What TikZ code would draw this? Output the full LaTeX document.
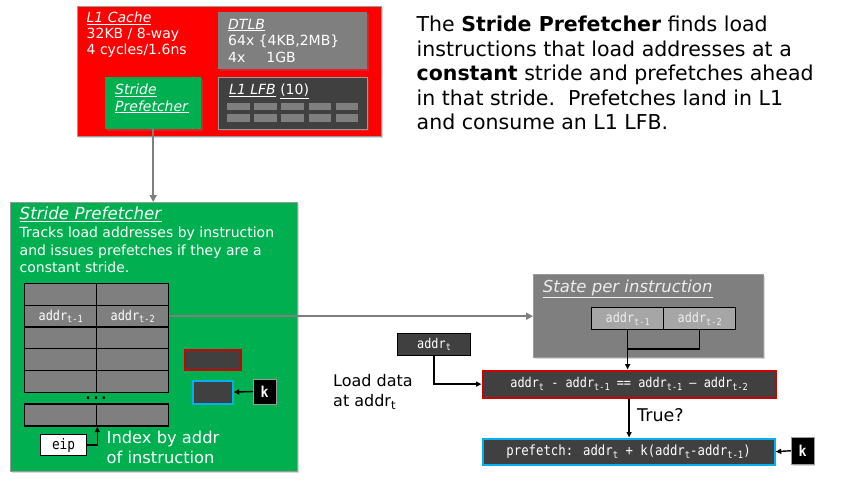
\documentclass[tikz,border=0pt]{standalone}
\usepackage{fontspec}
\setmainfont{DejaVu Sans}
\newfontfamily\monof[FakeStretch=0.88]{DejaVu Sans Mono}
\usetikzlibrary{arrows.meta,shadows}
\definecolor{l1red}{HTML}{FF0000}
\definecolor{spgreen}{HTML}{00B050}
\definecolor{dgray}{HTML}{404040}
\definecolor{mgray}{HTML}{7F7F7F}
\definecolor{lgray}{HTML}{A6A6A6}
\definecolor{cmpred}{HTML}{CC0000}
\definecolor{pfblue}{HTML}{00B0F0}
\definecolor{bord}{HTML}{9A9A9A}
\definecolor{paletxt}{HTML}{EDEDED}
\newcommand\lsub[1]{\raisebox{-0.35ex}{\scalebox{0.72}{#1}}}
\newcommand\fsz[1]{\fontsize{#1}{#1}\selectfont}
\begin{document}
\begin{tikzpicture}[x=1pt,y=-1pt,
  box/.style={rectangle,inner sep=0pt,anchor=north west},
  shad/.style={drop shadow={opacity=0.3,shadow xshift=1.5pt,shadow yshift=-1.5pt}},
  txt/.style={inner sep=0pt,anchor=base west,text=white},
  cell/.style={box,fill=mgray,draw=black,line width=1.3pt,minimum width=72pt,minimum height=21.7pt,text=white},
  lfbcell/.style={box,fill=mgray,minimum width=22.7pt,minimum height=7.7pt},
  blk/.style={-{Triangle[length=5.5pt,width=5pt]},line width=1.4pt,black},
  gry/.style={-{Triangle[length=7pt,width=7pt]},line width=2.4pt,mgray}]
\useasboundingbox[fill=white] (0,0) rectangle (842,485);

% ---------- L1 cache block ----------
\node[box,shad,fill=l1red,draw=bord,line width=0.8pt,minimum width=304pt,minimum height=130pt] (l1) at (77,6) {};
\node[txt] (l1t) at (86.5,22.5) {\fsz{14}\underline{\textit{L1 Cache}}};
\node[txt] (l1a) at (86.5,38) {\fsz{14}32KB / 8-way};
\node[txt] (l1b) at (86.5,54.5) {\fsz{14}4 cycles/1.6ns};

\node[box,shad,fill=mgray,minimum width=149pt,minimum height=57pt] (dtlb) at (218,12) {};
\node[txt] (dt1) at (228,29) {\fsz{14}\underline{\textit{DTLB}}};
\node[txt] (dt2) at (228,45.5) {\fsz{14}64x \{4KB,2MB\}};
\node[txt] (dt3) at (228,62.5) {\fsz{14}4x\hspace{21pt}1GB};

\node[box,shad,fill=spgreen,minimum width=96pt,minimum height=52pt] (sps) at (105,77) {};
\node[txt] (sps1) at (115,94.5) {\fsz{14}\underline{\textit{Stride}}};
\node[txt] (sps2) at (115,111) {\fsz{14}\underline{\textit{Prefetcher}}};

\node[box,shad,fill=dgray,draw=bord,line width=0.6pt,minimum width=149pt,minimum height=52pt] (lfb) at (218,77) {};
\node[txt] (lfbt) at (229,94.5) {\fsz{14}\underline{\textit{L1 LFB}} \underline{(10)}};
\foreach \c in {0,...,4}{
  \node[lfbcell] (la\c) at (226.7+27.2*\c,102.3) {};
  \node[lfbcell] (lb\c) at (226.7+27.2*\c,114) {};
}

% ---------- description text ----------
\node[inner sep=0pt,anchor=base west] (d1) at (416.5,31.7) {\fsz{20.5}The \textbf{Stride Prefetcher} finds load};
\node[inner sep=0pt,anchor=base west] (d2) at (416.5,56.3) {\fsz{20.5}instructions that load addresses at a};
\node[inner sep=0pt,anchor=base west] (d3) at (416.5,80.8) {\fsz{20.5}\textbf{constant} stride and prefetches ahead};
\node[inner sep=0pt,anchor=base west] (d4) at (416.5,105.2) {\fsz{20.5}in that stride.\ \ Prefetches land in L1};
\node[inner sep=0pt,anchor=base west] (d5) at (416.5,129.6) {\fsz{20.5}and consume an L1 LFB.};

% ---------- big stride prefetcher ----------
\node[box,shad,fill=spgreen,draw=bord,line width=0.8pt,minimum width=287pt,minimum height=269pt] (big) at (10,202) {};
\node[txt] (bt) at (19.5,219.5) {\fsz{16.7}\underline{\textit{Stride Prefetcher}}};
\node[txt] (b1) at (19.5,237) {\fsz{14}Tracks load addresses by instruction};
\node[txt] (b2) at (19.5,255) {\fsz{14}and issues prefetches if they are a};
\node[txt] (b3) at (19.5,272.7) {\fsz{14}constant stride.};

\foreach \i/\yy in {1/283,2/304.7,3/326.4,4/348.1,5/369.8}{
  \node[cell] (ra\i) at (24,\yy) {};
  \node[cell] (rb\i) at (96,\yy) {};
}
\node[text=white,inner sep=0pt] (ra2t) at (ra2.center) {\monof\fsz{13.5}addr\lsub{t-1}};
\node[text=white,inner sep=0pt] (rb2t) at (rb2.center) {\monof\fsz{13.5}addr\lsub{t-2}};
\node[inner sep=0pt,anchor=base] (dots) at (96,399) {\monof\bfseries\fsz{15}...};
\node[cell,minimum height=22pt] (ra6) at (24,403.3) {};
\node[cell,minimum height=22pt] (rb6) at (96,403.3) {};

\node[box,fill=white,draw=black,line width=1.1pt,minimum width=46pt,minimum height=21pt] (eip) at (40,434) {\monof\fsz{14.5}eip};
\draw[blk] (eip.east) -| (ra6.south east);
\node[txt] (ix1) at (106.5,443.5) {\fsz{16.3}Index by addr};
\node[txt] (ix2) at (106.5,463.3) {\fsz{16.3}of instruction};

\node[box,fill=dgray,draw=cmpred,line width=2.2pt,minimum width=56pt,minimum height=20pt] (redsm) at (183.5,348.5) {};
\node[box,fill=dgray,draw=pfblue,line width=2.2pt,minimum width=40pt,minimum height=23pt] (bluesm) at (191.5,379.5) {};
\node[box,shad,fill=black,draw=bord,line width=0.5pt,minimum width=22.5pt,minimum height=24.5pt,text=white] (k1) at (253,379) {\monof\bfseries\fsz{15}k};
\draw[blk] (k1.west) -- (bluesm.east);

% ---------- state per instruction ----------
\node[box,shad,fill=mgray,draw=bord,line width=0.6pt,minimum width=230pt,minimum height=83pt] (state) at (533,274) {};
\node[txt,text=paletxt] (stt) at (542.7,292.3) {\fsz{16.5}\underline{\textit{State per instruction}}};
\node[box,fill=lgray,draw=black,line width=1.3pt,minimum width=72pt,minimum height=22pt,text=paletxt] (s1) at (591,307) {\monof\fsz{13.5}addr\lsub{t-1}};
\node[box,fill=lgray,draw=black,line width=1.3pt,minimum width=72pt,minimum height=22pt,text=paletxt] (s2) at (663,307) {\monof\fsz{13.5}addr\lsub{t-2}};

\draw[gry] (sps.south) -- (sps.south |- big.north);
\draw[gry] (rb2.east) -- (rb2.east -| state.west);

\coordinate (jn) at (627,349);
\draw[line width=1.4pt] (s2.south) |- (jn);

% ---------- comparison ----------
\node[box,fill=dgray,draw=cmpred,line width=2.2pt,minimum width=293pt,minimum height=27pt,text=white] (cmp) at (481.5,369.5) {\monof\fsz{13.5}addr\lsub{t} - addr\lsub{t-1} == addr\lsub{t-1} – addr\lsub{t-2}};
\draw[blk] (s1.south) -- (s1.south |- cmp.north);

\node[box,fill=dgray,draw=black,line width=1.1pt,minimum width=73pt,minimum height=22pt,text=white] (at) at (397,333) {\monof\fsz{13.5}addr\lsub{t}};
\draw[blk] (at.south) |- (cmp.west);
\node[inner sep=0pt,anchor=base west] (ld1) at (333,386.7) {\fsz{16}Load data};
\node[inner sep=0pt,anchor=base west] (ld2) at (333,406.7) {\fsz{16}at addr\lsub{t}};

\node[box,fill=dgray,draw=pfblue,line width=2.2pt,minimum width=292pt,minimum height=26pt,text=white] (pf) at (481.5,437.5) {\monof\fsz{14}prefetch: addr\lsub{t} + k(addr\lsub{t}-addr\lsub{t-1})};
\draw[blk] (cmp.south) -- (cmp.south |- pf.north);
\node[inner sep=0pt,anchor=base west] (tru) at (637,421.7) {\fsz{17.5}True?};

\node[box,shad,fill=black,draw=bord,line width=0.5pt,minimum width=22.5pt,minimum height=27pt,text=white] (k2) at (791,437) {\monof\bfseries\fsz{15}k};
\draw[blk] (k2.west) -- (pf.east);
\end{tikzpicture}
\end{document}
